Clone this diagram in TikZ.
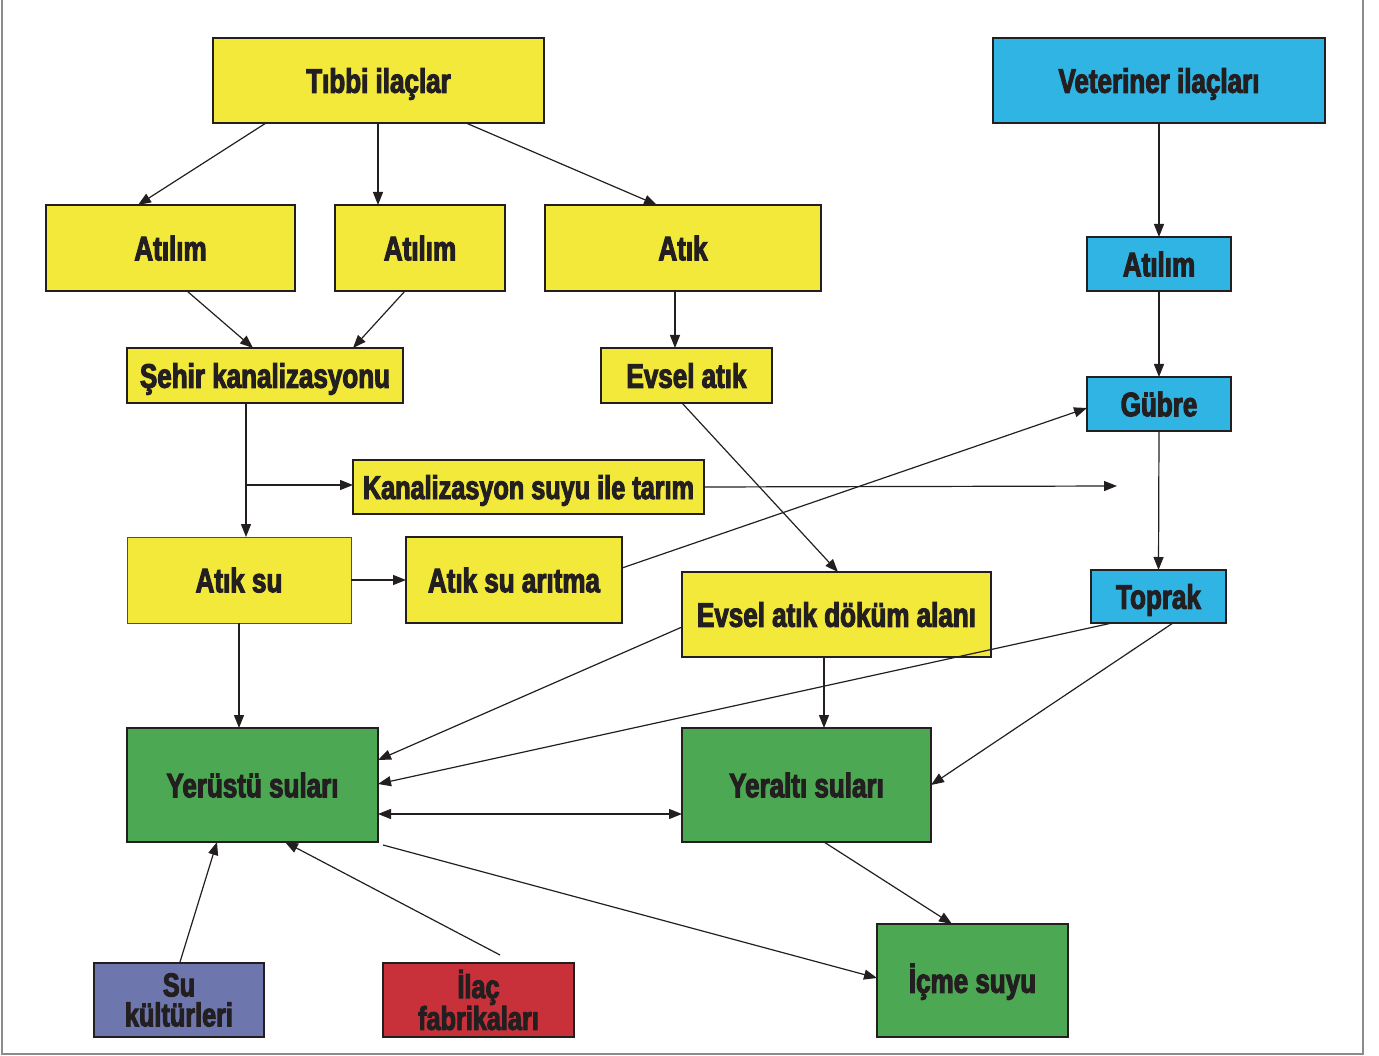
\documentclass[tikz,border=0pt]{standalone}
\usepackage{fontspec}
\newfontfamily\lab{Liberation Sans}[FakeStretch=0.765,BoldFeatures={FakeBold=3}]
\usetikzlibrary{arrows.meta,calc}
\definecolor{yel}{RGB}{242,233,58}
\definecolor{cya}{RGB}{48,180,228}
\definecolor{grn}{RGB}{76,168,82}
\definecolor{pur}{RGB}{110,119,173}
\definecolor{rd}{RGB}{201,49,58}
\definecolor{edge}{RGB}{35,31,32}
\definecolor{frame}{RGB}{140,140,140}
\begin{document}
\begin{tikzpicture}[x=1pt,y=-1pt,
  box/.style={draw=edge,line width=2.4pt,inner sep=0pt,outer sep=0pt,anchor=north west,
    text=edge,align=center,text height=24.5pt,text depth=0pt,
    font=\lab\bfseries\fontsize{34}{36}\selectfont},
  two/.style={text height={},text depth={},font=\lab\bfseries\fontsize{33}{30}\selectfont},
  arr/.style={-{Triangle[length=13pt,width=10pt]},line width=1.2pt,draw=edge},
  darr/.style={{Triangle[length=13pt,width=10pt]}-{Triangle[length=13pt,width=10pt]},line width=1.2pt,draw=edge}]
\useasboundingbox (0,0) rectangle (1379,1056);
\draw[frame,line width=2pt] (2,0) -- (2,1054) -- (1363,1054) -- (1363,0);

% nodes
\node[box,fill=yel,minimum width=331,minimum height=85] (tib) at (213,38) {Tıbbi ilaçlar};
\node[box,fill=cya,minimum width=332,minimum height=85] (vet) at (993,38) {Veteriner ilaçları};
\node[box,fill=yel,minimum width=249,minimum height=86] (at1) at (46,205) {Atılım};
\node[box,fill=yel,minimum width=170,minimum height=86] (at2) at (335,205) {Atılım};
\node[box,fill=yel,minimum width=276,minimum height=86] (atik) at (545,205) {Atık};
\node[box,fill=cya,minimum width=144,minimum height=54] (vat) at (1087,237) {Atılım};
\node[box,fill=yel,minimum width=276,minimum height=55] (seh) at (127,348) {Şehir kanalizasyonu};
\node[box,fill=yel,minimum width=171,minimum height=55] (evs) at (601,348) {Evsel atık};
\node[box,fill=cya,minimum width=144,minimum height=54] (gub) at (1087,377) {Gübre};
\node[box,fill=yel,minimum width=351,minimum height=54,font=\lab\bfseries\fontsize{33}{36}\selectfont,text height=24pt] (kan) at (353,460) {Kanalizasyon suyu ile tarım};
\node[box,fill=yel,draw=edge!80,line width=1pt,minimum width=224,minimum height=86] (asu) at (127,537) {Atık su};
\node[box,fill=yel,minimum width=216,minimum height=86] (ari) at (406,537) {Atık su arıtma};
\node[box,fill=yel,minimum width=309,minimum height=85] (dok) at (682,572) {Evsel atık döküm alanı};
\node[box,fill=cya,minimum width=135,minimum height=53] (top) at (1091,570) {Toprak};
\node[box,fill=grn,minimum width=251,minimum height=114] (yer) at (127,728) {Yerüstü suları};
\node[box,fill=grn,minimum width=249,minimum height=114] (yal) at (682,728) {Yeraltı suları};
\node[box,fill=grn,minimum width=191,minimum height=113] (icm) at (877,924) {İçme suyu};
\node[box,two,fill=pur,minimum width=170,minimum height=74] (suk) at (94,963) {Su\\kültürleri};
\node[box,two,fill=rd,minimum width=191,minimum height=74] (ila) at (383,963) {İlaç\\fabrikaları};

\coordinate (kanend) at (1117,486);
\coordinate (br) at ($(seh.south west)+(119,82)$);

% connectors
\draw[arr] ([xshift=53]tib.south west) -- ([xshift=92]at1.north west);
\draw[arr] ([xshift=165]tib.south west) -- ([xshift=43]at2.north west);
\draw[arr] ([xshift=253]tib.south west) -- ([xshift=112]atik.north west);
\draw[arr] (vet.south) -- (vat.north);
\draw[arr] (vat.south) -- (gub.north);
\draw[arr] (gub.south) -- (top.north);
\draw[arr] ([xshift=141]at1.south west) -- ([xshift=126]seh.north west);
\draw[arr] ([xshift=70]at2.south west) -- ([xshift=226]seh.north west);
\draw[arr] ([xshift=130]atik.south west) -- ([xshift=74]evs.north west);
\draw[arr] ([xshift=119]seh.south west) -- ([xshift=119]asu.north west);
\draw[arr] (br) -- (br -| kan.west);
\draw[arr] (kan.east) -- (kanend);
\draw[arr] (asu.east) -- (ari.west);
\draw[arr] ([yshift=-31]ari.north east) -- ([yshift=-31]gub.north west);
\draw[arr] ([xshift=81]evs.south west) -- ([xshift=156]dok.north west);
\draw[arr] ([xshift=112]asu.south west) -- ([xshift=112]yer.north west);
\draw[arr] ([yshift=-55]dok.north west) -- ([yshift=-32]yer.north east);
\draw[arr] ([xshift=21]top.south west) -- ([yshift=-56]yer.north east);
\draw[arr] ([xshift=82]top.south west) -- ([yshift=-57]yal.north east);
\draw[arr] ([xshift=142]dok.south west) -- ([xshift=142]yal.north west);
\draw[darr] ([yshift=-86]yer.north east) -- ([yshift=-86]yal.north west);
\draw[arr] ([xshift=142]yal.south west) -- ([xshift=75]icm.north west);
\draw[arr] ([xshift=5,yshift=-3]yer.south east) -- ([yshift=-54]icm.north west);
\draw[arr] ([xshift=86,yshift=1]suk.north west) -- ([xshift=90]yer.south west);
\draw[arr] ([xshift=117,yshift=8]ila.north west) -- ([xshift=158]yer.south west);
\end{tikzpicture}
\end{document}
